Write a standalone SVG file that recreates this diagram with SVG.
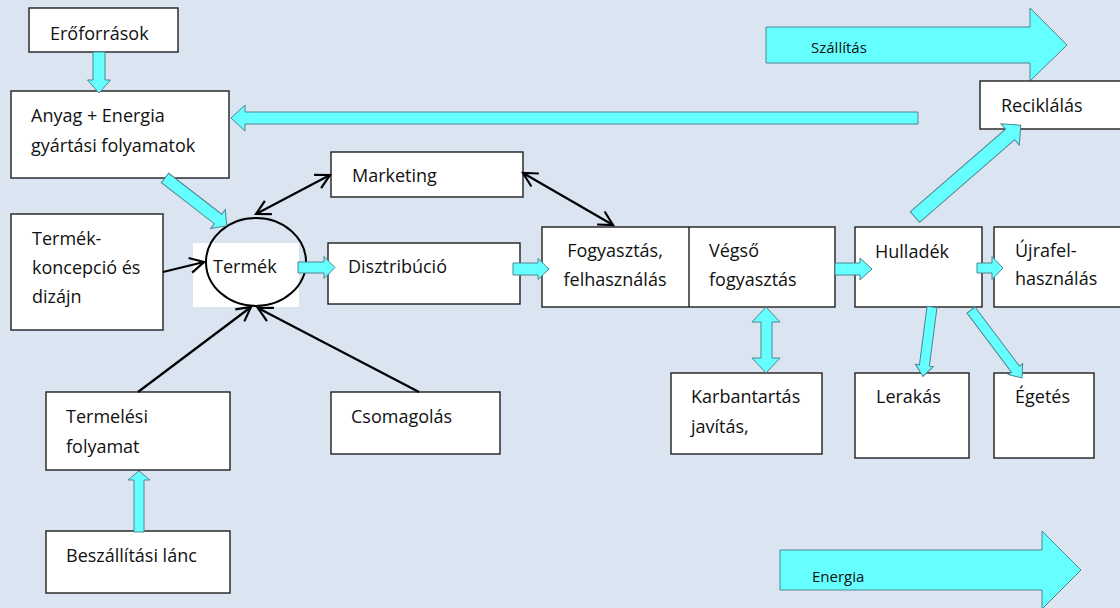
<svg xmlns="http://www.w3.org/2000/svg" width="1120" height="608" viewBox="0 0 1120 608">
<style>
.box{fill:#ffffff;stroke:#1e1e1e;stroke-width:1.4}
.t{font-family:"Open Sans","Noto Sans",sans-serif;font-size:18px;fill:#111}
.ts{font-family:"Open Sans","Noto Sans",sans-serif;font-size:15px;fill:#111}
.blk{fill:#66ffff;stroke:#4e8491;stroke-width:1}
.ln{fill:none;stroke:#000;stroke-width:2.2}
</style>
<defs>
<marker id="ah" viewBox="-17 -10 20 20" markerWidth="20" markerHeight="20" refX="0" refY="0" markerUnits="userSpaceOnUse" orient="auto-start-reverse">
<path d="M-14,-7.5 L0,0 L-14,7.5" fill="none" stroke="#000" stroke-width="2.2"/>
</marker>
</defs>
<rect width="1120" height="608" fill="#dbe5f1"/>

<g id="szallitas">
<polygon class="blk" points="766,27 1030,27 1030,8 1067,45 1030,81 1030,63 766,63"/>
<text class="ts" x="811" y="53">Szállítás</text>
</g>
<g id="energia">
<polygon class="blk" points="780,550 1042,550 1042,531 1081,570 1042,609 1042,590 780,590"/>
<text class="ts" x="812" y="582">Energia</text>
</g>

<g id="eroforrasok">
<rect class="box" x="29" y="8" width="149" height="44"/>
<text class="t" x="50" y="40">Erőforrások</text>
</g>
<g id="anyag">
<rect class="box" x="11" y="91" width="218" height="87"/>
<text class="t" x="31" y="122">Anyag + Energia</text>
<text class="t" x="31" y="152">gyártási folyamatok</text>
</g>
<g id="termekkoncepcio">
<rect class="box" x="11" y="214" width="152" height="116"/>
<text class="t" x="32" y="245">Termék-</text>
<text class="t" x="32" y="274">koncepció és</text>
<text class="t" x="32" y="303">dizájn</text>
</g>
<g id="termek">
<rect x="193" y="243" width="106" height="64" fill="#ffffff"/>
<ellipse cx="256" cy="262" rx="50" ry="44" fill="none" stroke="#000" stroke-width="2"/>
<text class="t" x="213" y="273">Termék</text>
</g>
<g id="marketing">
<rect class="box" x="331" y="152" width="192" height="45"/>
<text class="t" x="352" y="182">Marketing</text>
</g>
<g id="disztribucio">
<rect class="box" x="328" y="243" width="192" height="61"/>
<text class="t" x="348" y="273">Disztribúció</text>
</g>
<g id="fogyasztas">
<rect class="box" x="542" y="227" width="293" height="80"/>
<line x1="689" y1="227" x2="689" y2="307" stroke="#1e1e1e" stroke-width="1.4"/>
<text class="t" x="615" y="257" text-anchor="middle">Fogyasztás,</text>
<text class="t" x="615" y="286" text-anchor="middle">felhasználás</text>
<text class="t" x="709" y="257">Végső</text>
<text class="t" x="709" y="286">fogyasztás</text>
</g>
<g id="karbantartas">
<rect class="box" x="671" y="373" width="151" height="81"/>
<text class="t" x="691" y="403">Karbantartás</text>
<text class="t" x="691" y="433">javítás,</text>
</g>
<g id="hulladek">
<rect class="box" x="855" y="227" width="127" height="80"/>
<text class="t" x="875" y="258">Hulladék</text>
</g>
<g id="ujrafelhasznalas">
<rect class="box" x="994" y="227" width="140" height="80"/>
<text class="t" x="1015" y="257">Újrafel-</text>
<text class="t" x="1015" y="285">használás</text>
</g>
<g id="reciklalas">
<rect class="box" x="980" y="81" width="150" height="48"/>
<text class="t" x="1001" y="112">Reciklálás</text>
</g>
<g id="lerakas">
<rect class="box" x="855" y="373" width="114" height="85"/>
<text class="t" x="876" y="403">Lerakás</text>
</g>
<g id="egetes">
<rect class="box" x="994" y="373" width="100" height="85"/>
<text class="t" x="1015" y="403">Égetés</text>
</g>
<g id="termelesi">
<rect class="box" x="46" y="392" width="184" height="78"/>
<text class="t" x="66" y="423">Termelési</text>
<text class="t" x="66" y="453">folyamat</text>
</g>
<g id="csomagolas">
<rect class="box" x="331" y="392" width="169" height="62"/>
<text class="t" x="351" y="423">Csomagolás</text>
</g>
<g id="beszallitasi">
<rect class="box" x="46" y="531" width="184" height="62"/>
<text class="t" x="66" y="562">Beszállítási lánc</text>
</g>

<g id="connectors">
<!-- block arrows: local frame, tail at origin pointing +x -->
<polygon class="blk" transform="translate(99,52) rotate(90)" points="0,-6 28,-6 28,-11.5 41,0 28,11.5 28,6 0,6"/>
<polygon class="blk" transform="translate(918,118) rotate(180)" points="0,-6 673,-6 673,-13 687,0 673,13 673,6 0,6"/>
<polygon class="blk" transform="translate(165,178) rotate(37.7)" points="0,-6 67,-6 67,-12 78,0 67,12 67,6 0,6"/>
<polygon class="blk" transform="translate(298,267.5) rotate(0)" points="0,-5.5 26,-5.5 26,-11 37,0 26,11 26,5.5 0,5.5"/>
<polygon class="blk" transform="translate(513,269) rotate(0)" points="0,-6 25,-6 25,-10.5 36,0 25,10.5 25,6 0,6"/>
<polygon class="blk" transform="translate(835,269) rotate(0)" points="0,-6 25,-6 25,-11 37,0 25,11 25,6 0,6"/>
<polygon class="blk" transform="translate(977,268) rotate(0)" points="0,-5 15,-5 15,-11.5 26,0 15,11.5 15,5 0,5"/>
<polygon class="blk" transform="translate(915,217) rotate(-40.96)" points="0,-7 126,-7 126,-14 140,0 126,14 126,7 0,7"/>
<polygon class="blk" transform="translate(932,307) rotate(97.4)" points="0,-5 59,-5 59,-9 70,0 59,9 59,5 0,5"/>
<polygon class="blk" transform="translate(971,310) rotate(53.1)" points="0,-5 74,-5 74,-9 85,0 74,9 74,5 0,5"/>
<polygon class="blk" transform="translate(139,532) rotate(-90)" points="0,-5 52,-5 52,-11 61,0 52,11 52,5 0,5"/>
<polygon class="blk" points="766,307 780,322 772,322 772,358 780,358 766,373 752,358 761,358 761,322 752,322"/>
<!-- black line arrows -->
<line class="ln" x1="330" y1="175" x2="256" y2="214" marker-start="url(#ah)" marker-end="url(#ah)"/>
<line class="ln" x1="523" y1="173" x2="613" y2="225" marker-start="url(#ah)" marker-end="url(#ah)"/>
<line class="ln" x1="163" y1="272" x2="204" y2="262" marker-end="url(#ah)"/>
<line class="ln" x1="138" y1="392" x2="251" y2="307" marker-end="url(#ah)"/>
<line class="ln" x1="419" y1="392" x2="258" y2="308" marker-end="url(#ah)"/>
</g>
</svg>
